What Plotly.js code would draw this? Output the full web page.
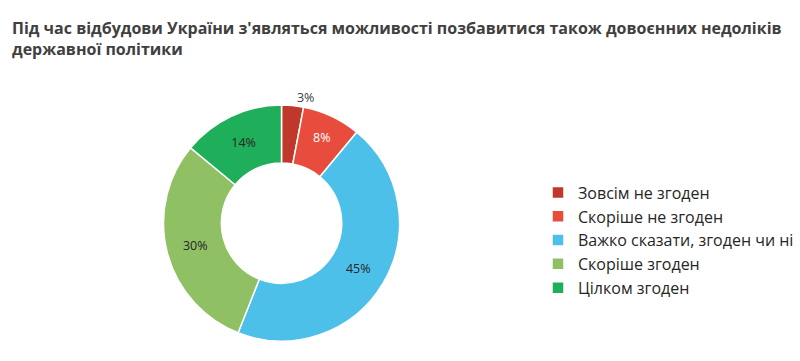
<!DOCTYPE html>
<html><head><meta charset="utf-8">
<script src="https://cdn.plot.ly/plotly-3.0.1.min.js"></script>
<style>body{margin:0;background:#fff}#chart{width:800px;height:361px}</style>
</head><body><div id="chart"></div>
<script>
const categories = ["Зовсім не згоден","Скоріше не згоден","Важко сказати, згоден чи ні","Скоріше згоден","Цілком згоден"];
const values = [3, 8, 45, 30, 14];
const colors = ["#C0382B","#E84C3D","#4DC0EA","#8FC063","#1FAE5A"];
const textColors = ["#404040","#ffffff","#262626","#262626","#262626"];
const textPositions = ["outside","inside","inside","inside","inside"];
const titleText = "Під час відбудови України з'являться можливості позбавитися також довоєнних недоліків<br>державної політики";

const trace = {
  type: "pie",
  labels: categories,
  values: values,
  hole: 0.51,
  sort: false,
  direction: "clockwise",
  rotation: 0,
  marker: {colors: colors, line: {color: "#ffffff", width: 1.5}},
  texttemplate: "%{value}%",
  textinfo: "text",
  textposition: textPositions,
  insidetextorientation: "horizontal",
  textfont: {family: "Open Sans, sans-serif", size: 12.5, color: textColors},
  outsidetextfont: {family: "Open Sans, sans-serif", size: 12.5, color: "#404040"},
  domain: {x: [0.2044, 0.4994], y: [0.055, 0.709]},
  hoverinfo: "label+percent"
};

const layout = {
  width: 800, height: 361,
  margin: {l: 0, r: 0, t: 0, b: 0, autoexpand: false},
  paper_bgcolor: "#fff",
  annotations: [{
    text: "<b>" + titleText + "</b>",
    xref: "paper", yref: "paper",
    x: 0.013, xanchor: "left", y: 0.958, yanchor: "top",
    align: "left", showarrow: false,
    font: {family: "Open Sans, sans-serif", size: 16, color: "#404040"}
  }],
  showlegend: true,
  legend: {
    x: 0.6725, xanchor: "left", y: 0.335, yanchor: "middle",
    font: {family: "Open Sans, sans-serif", size: 16, color: "#262626"},
    traceorder: "normal"
  }
};
Plotly.newPlot("chart", [trace], layout, {displayModeBar: false, staticPlot: true});
</script></body></html>
